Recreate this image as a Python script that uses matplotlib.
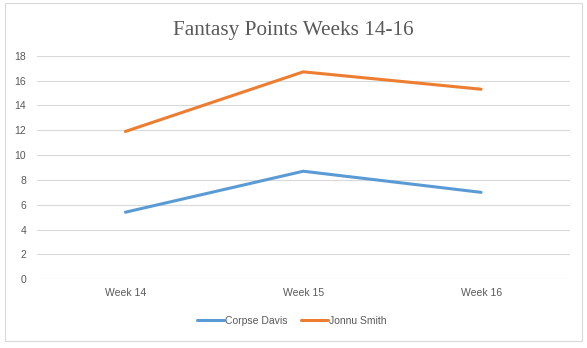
import matplotlib.pyplot as plt
from matplotlib.patches import Rectangle

weeks = ["Week 14", "Week 15", "Week 16"]
corpse_davis = [5.4, 8.7, 7.0]
jonnu_smith = [11.9, 16.7, 15.3]
y_ticks = [0, 2, 4, 6, 8, 10, 12, 14, 16, 18]

text_color = "#595959"
grid_color = "#d9d9d9"

fig = plt.figure(figsize=(5.87, 3.48), dpi=100)
fig.patches.append(Rectangle((5 / 587, 1 - 341 / 348), 577 / 587, 338 / 348,
                             transform=fig.transFigure, fill=False,
                             edgecolor=grid_color, linewidth=0.8))

ax = fig.add_axes([36.5 / 587, 1 - 279.3 / 348, 533.5 / 587, 223.6 / 348])

x = range(len(weeks))
ax.plot(x, corpse_davis, color="#5B9BD5", linewidth=2.2,
        solid_capstyle="round", label="Corpse Davis", clip_on=False)
ax.plot(x, jonnu_smith, color="#ED7D31", linewidth=2.2,
        solid_capstyle="round", label="Jonnu Smith", clip_on=False)

ax.set_xlim(-0.5, len(weeks) - 0.5)
ax.set_ylim(0, 18)
ax.set_xticks(list(x))
ax.set_xticklabels(weeks)
ax.set_yticks(y_ticks)

for s in ax.spines.values():
    s.set_visible(False)
ax.grid(axis="y", color=grid_color, linewidth=0.8)
ax.set_axisbelow(True)
ax.tick_params(length=0, labelsize=7.5, labelcolor=text_color, pad=6)
for lbl in ax.get_xticklabels() + ax.get_yticklabels():
    lbl.set_family("Liberation Sans")
ax.tick_params(axis="y", pad=7.5)

fig.text(0.5, 1 - 30 / 348, "Fantasy Points Weeks 14-16", ha="center",
         va="center", fontsize=15.3, color=text_color, family="Liberation Serif")

leg = fig.legend(loc="center", bbox_to_anchor=(0.497, 1 - 321 / 348), ncol=2,
                 frameon=False, handlelength=2.6, columnspacing=1.3,
                 handletextpad=0.1, prop={"family": "Liberation Sans", "size": 7.5})
for t in leg.get_texts():
    t.set_color(text_color)

fig.savefig("out.png", dpi=100)
